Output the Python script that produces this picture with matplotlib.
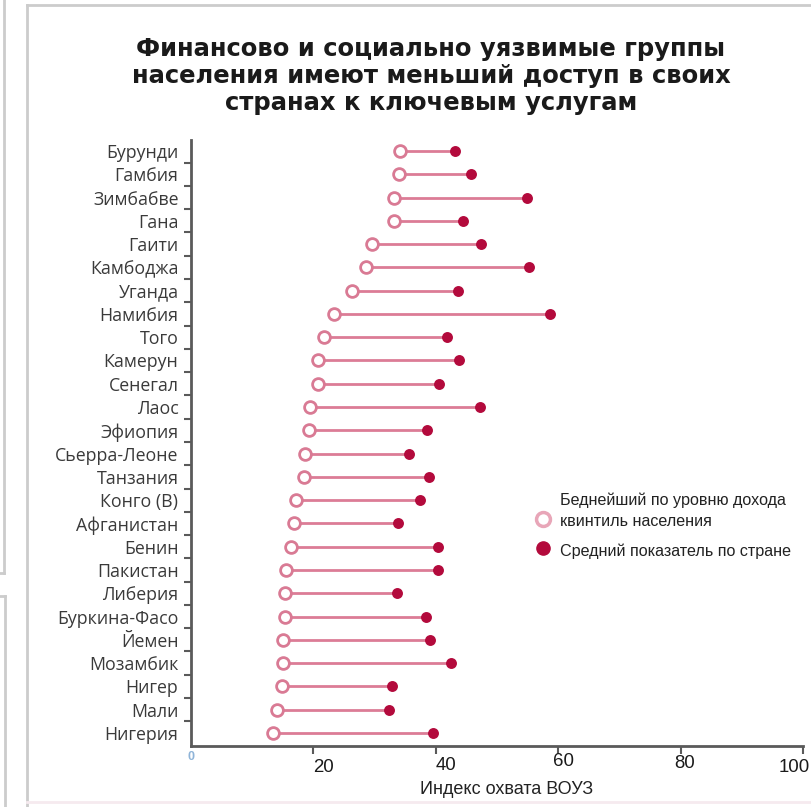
import numpy as np
import matplotlib
matplotlib.use("Agg")
import matplotlib.pyplot as plt
from matplotlib.lines import Line2D

W, H = 812, 807

countries = ["Бурунди", "Гамбия", "Зимбабве", "Гана", "Гаити", "Камбоджа", "Уганда",
             "Намибия", "Того", "Камерун", "Сенегал", "Лаос", "Эфиопия", "Сьерра-Леоне",
             "Танзания", "Конго (В)", "Афганистан", "Бенин", "Пакистан", "Либерия",
             "Буркина-Фасо", "Йемен", "Мозамбик", "Нигер", "Мали", "Нигерия"]
poorest = [34.2, 34.0, 33.1, 33.1, 29.6, 28.6, 26.3, 23.4, 21.8, 20.8, 20.8, 19.5, 19.3,
           18.7, 18.4, 17.1, 16.9, 16.4, 15.6, 15.4, 15.3, 15.0, 15.0, 14.8, 14.1, 13.4]
national = [43.2, 45.7, 54.9, 44.5, 47.4, 55.3, 43.7, 58.6, 41.8, 43.8, 40.5, 47.3, 38.5,
            35.6, 38.9, 37.5, 33.8, 40.3, 40.3, 33.7, 38.4, 39.1, 42.5, 32.8, 32.4, 39.5]
xticks = [20, 40, 60, 80, 100]

title = ("Финансово и социально уязвимые группы\n"
         "населения имеют меньший доступ в своих\n"
         "странах к ключевым услугам")
xlabel = "Индекс охвата ВОУЗ"
leg_poor = ["Беднейший по уровню дохода", "квинтиль населения"]
leg_nat = "Средний показатель по стране"

RING = "#d97a94"
LINE = "#dc7c96"
DOT = "#b30a3c"
AXC = "#5a5a5a"
TXT = "#3a3a3a"

# axis pixels: x=0 at 191, x=100 at 803
X0, X1 = 191, 803


def fx(x):
    return x / W


def fy(y):
    return 1 - y / H


fig = plt.figure(figsize=(W / 100, H / 100), dpi=100)
ax = fig.add_axes([fx(X0), fy(746), fx(X1) - fx(X0), fy(140) - fy(746)])

y = np.arange(len(countries))
ax.hlines(y, poorest, national, color=LINE, lw=2.0, zorder=2)
ax.scatter(national, y, s=62, color=DOT, zorder=3, linewidths=0)
ax.scatter(poorest, y, s=72, facecolor="white", edgecolor=RING, linewidths=2.0, zorder=4)

ax.set_xlim(0, 100)
ax.set_ylim(25.56, -0.47)
ax.set_yticks(y)
ax.set_yticklabels(countries, fontname="Open Sans", fontsize=12.8, color=TXT)
ax.set_yticks(y[:-1] + 0.5, minor=True)
ax.tick_params(axis="y", which="major", length=0, pad=9)
ax.tick_params(axis="y", which="minor", length=5, width=1.5, color=AXC, direction="out")

ax.set_xticks(xticks)
ax.set_xticklabels([])
ax.tick_params(axis="x", length=6, width=1.5, color=AXC, direction="out")

# tick labels sit a little off their ticks, as in the scanned original
label_dx = [10, 10, 5, 4, -9]
label_dy = [22, 19, 16, 17, 22]
sc = (X1 - X0) / 100
for v, dx, dy in zip(xticks, label_dx, label_dy):
    fig.text(fx(X0 + v * sc + dx), fy(746 + dy), str(v), ha="center", va="center",
             fontname="Liberation Sans", fontsize=13.4, color="#1a1a1a")
fig.text(fx(X0), fy(757), "0", ha="center", va="center", fontname="Liberation Sans",
         fontsize=9, fontweight="bold", color="#8fb4d8")

for side in ["top", "right"]:
    ax.spines[side].set_visible(False)
for side in ["left", "bottom"]:
    ax.spines[side].set_color(AXC)
    ax.spines[side].set_linewidth(2)

fig.text(fx(507), fy(789), xlabel, ha="center", va="center", fontname="Liberation Sans",
         fontsize=13, color="#222222")

fig.text(fx(431), fy(76), title, ha="center", va="center", multialignment="center",
         fontname="DejaVu Sans", fontweight="bold", fontsize=17.5, linespacing=1.17,
         color="#1a1a1a")

# legend drawn by hand
fig.add_artist(Line2D([fx(543)], [fy(519)], marker="o", ms=10, mfc="white", mec="#e8a6b8",
                      mew=2.5, ls="none"))
fig.add_artist(Line2D([fx(543)], [fy(548)], marker="o", ms=9.5, mfc=DOT, mec=DOT, ls="none"))
for txt, yy in [(leg_poor[0], 500), (leg_poor[1], 521), (leg_nat, 551)]:
    fig.text(fx(560), fy(yy), txt, va="center", fontname="Liberation Sans",
             fontsize=11.6, color="#222222")

# panel frames of the page around the chart
FR = "#cccccc"
fig.add_artist(Line2D([fx(27), fx(27)], [fy(5), fy(807)], color=FR, lw=2))
fig.add_artist(Line2D([fx(27), fx(812)], [fy(5), fy(5)], color=FR, lw=2))
fig.add_artist(Line2D([fx(4), fx(4)], [fy(0), fy(573)], color=FR, lw=2))
fig.add_artist(Line2D([fx(0), fx(4)], [fy(573), fy(573)], color=FR, lw=2))
fig.add_artist(Line2D([fx(0), fx(5)], [fy(596), fy(596)], color=FR, lw=2))
fig.add_artist(Line2D([fx(5), fx(5)], [fy(596), fy(807)], color=FR, lw=2))
fig.add_artist(Line2D([fx(27), fx(812)], [fy(802), fy(802)], color="#f6eaef", lw=2))

fig.savefig("out.png", dpi=100)
